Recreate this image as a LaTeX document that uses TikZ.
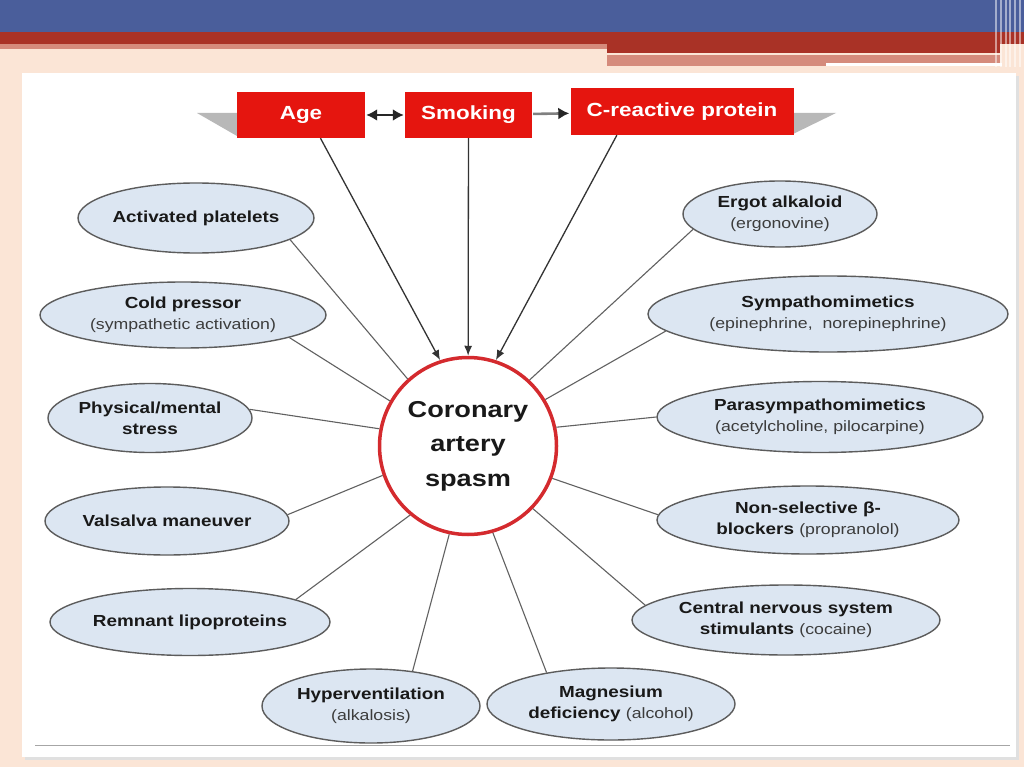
\documentclass[tikz,border=0pt]{standalone}
\usepackage{fontspec}
\setmainfont[FakeStretch=1.18]{Liberation Sans}
\usetikzlibrary{shapes.geometric, arrows.meta, positioning}
\definecolor{slideblue}{HTML}{4A5E9B}
\definecolor{slidered}{HTML}{A93226}
\definecolor{slidepink}{HTML}{D58B7C}
\definecolor{peach}{HTML}{FBE5D6}
\definecolor{boxred}{HTML}{E5150F}
\definecolor{ovalfill}{HTML}{DCE6F2}
\definecolor{ovalline}{HTML}{5C5C5C}
\definecolor{ringred}{HTML}{D42A2E}
\definecolor{subgray}{HTML}{3C3C3C}
\newcommand{\subtxt}[1]{{\mdseries\fontsize{15}{21}\selectfont\color{subgray}#1}}

\begin{document}
\begin{tikzpicture}[
  x=1pt, y=-1pt,
  oval/.style={ellipse, draw=ovalline, line width=1.4pt, fill=ovalfill, inner sep=0pt, align=center, text=black!90, font=\bfseries\fontsize{16}{21}\selectfont},
  riskbox/.style={rectangle, fill=boxred, text=white, inner sep=0pt, minimum height=46pt, font=\bfseries\fontsize{19}{22}\selectfont},
  link/.style={draw=black!62, line width=1.1pt},
  arrow/.style={-{Latex[length=10pt, width=8pt]}, draw=black!80, line width=1.3pt},
  pairarrow/.style={line width=2.6pt, shorten <=1pt, shorten >=1pt}
]
  % slide background
  \useasboundingbox (0,0) rectangle (1024,767);
  \fill[peach] (0,0) rectangle (1024,767);
  \fill[slideblue] (0,0) rectangle (1024,32);
  \fill[slidered] (0,32) rectangle (1024,44);
  \fill[slidepink] (0,44) rectangle (607,49);
  \fill[slidered] (607,44) rectangle (1000,53);
  \fill[slidepink] (607,55) rectangle (1000,66);
  \fill[white] (826,63) rectangle (1002,66);
  \foreach \sx in {996,1001,1006,1010,1015,1020}
    \draw[white, opacity=0.5, line width=1.2pt] (\sx,0) -- (\sx,67);
  \fill[black!12] (25,76) rectangle (1019,760);
  \fill[white] (22,73) rectangle (1016,757);
  \draw[black!35, line width=0.8pt] (35,745) -- (1010,745);

  % top risk factors
  \fill[black!28] (197,113) -- (237,113) -- (237,136) -- cycle;
  \fill[black!28] (836,113) -- (793,113) -- (793,134) -- cycle;
  \node[riskbox, minimum width=128pt] (age) at (301,115) {Age};
  \node[riskbox, minimum width=127pt] (smk) at (468.5,115) {Smoking};
  \node[riskbox, minimum width=223pt, minimum height=47pt] (crp) at (682,111.5) {C-reactive protein};

  % center
  \node[circle, draw=ringred, line width=3.5pt, fill=white, minimum size=177pt, align=center, text=black!90,
        font=\bfseries\fontsize{23}{34.5}\selectfont] (cas) at (468,446) {Coronary\\artery\\spasm};

  % left side
  \node[oval, minimum width=234pt, minimum height=70pt] (plt) at (196,218) {Activated platelets};
  \node[oval, minimum width=286pt, minimum height=66pt] (cold) at (183,315) {Cold pressor\\\subtxt{(sympathetic activation)}};
  \node[oval, minimum width=204pt, minimum height=69pt] (phys) at (150,418) {Physical/mental\\stress};
  \node[oval, minimum width=244pt, minimum height=68pt] (vals) at (167,521) {Valsalva maneuver};
  \node[oval, minimum width=280pt, minimum height=67pt] (lipo) at (190,622) {Remnant lipoproteins};
  \node[oval, minimum width=218pt, minimum height=74pt] (hyp) at (371,706) {Hyperventilation\\\subtxt{(alkalosis)}};
  \node[oval, minimum width=248pt, minimum height=72pt] (mag) at (611,704) {Magnesium\\deficiency \subtxt{(alcohol)}};

  % right side
  \node[oval, minimum width=194pt, minimum height=66pt] (ergo) at (780,214) {Ergot alkaloid\\\subtxt{(ergonovine)}};
  \node[oval, minimum width=360pt, minimum height=76pt] (symp) at (828,314) {Sympathomimetics\\\subtxt{(epinephrine,\ \ norepinephrine)}};
  \node[oval, minimum width=326pt, minimum height=71pt] (para) at (820,417) {Parasympathomimetics\\\subtxt{(acetylcholine, pilocarpine)}};
  \node[oval, minimum width=302pt, minimum height=68pt] (beta) at (808,520) {Non-selective β-\\blockers \subtxt{(propranolol)}};
  \node[oval, minimum width=308pt, minimum height=70pt] (cns) at (786,620) {Central nervous system\\stimulants \subtxt{(cocaine)}};

  % arrows between risk factors
  \draw[pairarrow, {Latex[length=11pt, width=12pt]}-{Latex[length=11pt, width=12pt]}, black!85] (age) -- (smk);
  \draw[pairarrow, -{Latex[length=11pt, width=12pt, color=black!85]}, black!50] (smk) -- (crp);
  \draw[arrow] (age.-50) -- (cas.108);
  \draw[arrow] (smk) -- (cas);
  \draw[arrow] (crp.200) -- (cas.72);

  % links
  \draw[link] (plt.-13) -- (cas.132);
  \draw[link] (cold.-12) -- (cas.150);
  \draw[link] (phys.5) -- (cas.169);
  \draw[link] (vals.3) -- (cas.199);
  \draw[link] (lipo.12) -- (cas.230);
  \draw[link] (hyp.40) -- (cas.258);
  \draw[link] (mag.154) -- (cas.286);
  \draw[link] (ergo.190) -- (cas.47);
  \draw[link] (symp.186) -- (cas.31);
  \draw[link] (para.180) -- (cas.12);
  \draw[link] (beta.178) -- (cas.-21);
  \draw[link] (cns.174) -- (cas.-44);
\end{tikzpicture}
\end{document}
